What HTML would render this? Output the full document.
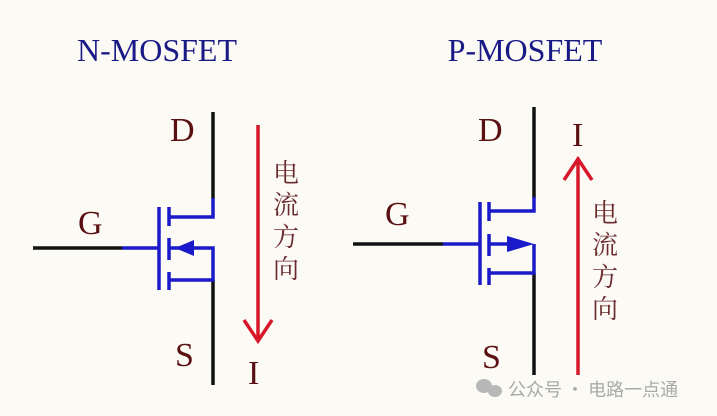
<!DOCTYPE html>
<html><head><meta charset="utf-8"><style>
html,body{margin:0;padding:0;background:#fbfaf5;}
svg{display:block;}
</style></head><body>
<svg width="717" height="416" viewBox="0 0 717 416" xmlns="http://www.w3.org/2000/svg">
<rect width="717" height="416" fill="#fbfaf5"/>
<g font-family="Liberation Serif, serif" fill="#1a1a86" font-size="32">
<text x="157" y="61" text-anchor="middle">N-MOSFET</text>
<text x="525" y="61" text-anchor="middle">P-MOSFET</text>
</g>
<g font-family="Liberation Serif, serif" fill="#5a0f12" font-size="34">
<text x="170" y="141">D</text>
<text x="78" y="234">G</text>
<text x="175" y="366">S</text>
<text x="248" y="384">I</text>
<text x="478" y="141">D</text>
<text x="572" y="146">I</text>
<text x="385" y="225">G</text>
<text x="482" y="368">S</text>
</g>
<g font-family="Noto Serif CJK SC, serif" fill="#6a2a2e" font-size="26">
<text x="286" y="182" text-anchor="middle">电</text>
<text x="286" y="214" text-anchor="middle">流</text>
<text x="286" y="246" text-anchor="middle">方</text>
<text x="286" y="278" text-anchor="middle">向</text>
<text x="605" y="222" text-anchor="middle">电</text>
<text x="605" y="254" text-anchor="middle">流</text>
<text x="605" y="286" text-anchor="middle">方</text>
<text x="605" y="318" text-anchor="middle">向</text>
</g>
<!-- N-MOSFET -->
<g stroke-width="3.5" fill="none">
<line x1="213" y1="112" x2="213" y2="199" stroke="#111"/>
<line x1="213" y1="280" x2="213" y2="385" stroke="#111"/>
<line x1="33" y1="248" x2="122" y2="248" stroke="#111"/>
<g stroke="#1a1ac8">
<line x1="122" y1="248" x2="159" y2="248"/>
<line x1="159" y1="207" x2="159" y2="290"/>
<line x1="169" y1="207" x2="169" y2="226"/>
<line x1="169" y1="238" x2="169" y2="260"/>
<line x1="169" y1="272" x2="169" y2="290"/>
<polyline points="169,217 213,217 213,198"/>
<polyline points="190,248 213,248 213,280 169,280"/>
<line x1="169" y1="248" x2="180" y2="248"/>
</g>
<polygon points="175,248 194,240 194,256" fill="#1a1ac8" stroke="none"/>
<g stroke="#d7182a">
<line x1="258" y1="125" x2="258" y2="340"/>
<polyline points="244,320 258,341 272,320"/>
</g>
</g>
<!-- P-MOSFET -->
<g stroke-width="3.5" fill="none">
<line x1="534" y1="107" x2="534" y2="198" stroke="#111"/>
<line x1="534" y1="273" x2="534" y2="375" stroke="#111"/>
<line x1="353" y1="244" x2="443" y2="244" stroke="#111"/>
<g stroke="#1a1ac8">
<line x1="443" y1="244" x2="480" y2="244"/>
<line x1="480" y1="202" x2="480" y2="285"/>
<line x1="489" y1="202" x2="489" y2="221"/>
<line x1="489" y1="234" x2="489" y2="256"/>
<line x1="489" y1="268" x2="489" y2="285"/>
<polyline points="489,211 534,211 534,197"/>
<polyline points="489,244 520,244"/>
<polyline points="534,244 534,273 489,273"/>
</g>
<polygon points="534,244 507,236 507,252" fill="#1a1ac8" stroke="none"/>
<g stroke="#d7182a">
<line x1="578" y1="158" x2="578" y2="375"/>
<polyline points="564,180 578,159 592,180"/>
</g>
</g>
<!-- watermark -->
<g fill="#b8b8b8">
<ellipse cx="484" cy="386" rx="8" ry="7"/>
<ellipse cx="495" cy="391" rx="7" ry="6"/>
</g>
<text x="508" y="396" font-family="Noto Sans CJK SC, sans-serif" font-size="18" fill="#a9a9a9">公众号 · 电路一点通</text>
</svg>
</body></html>
